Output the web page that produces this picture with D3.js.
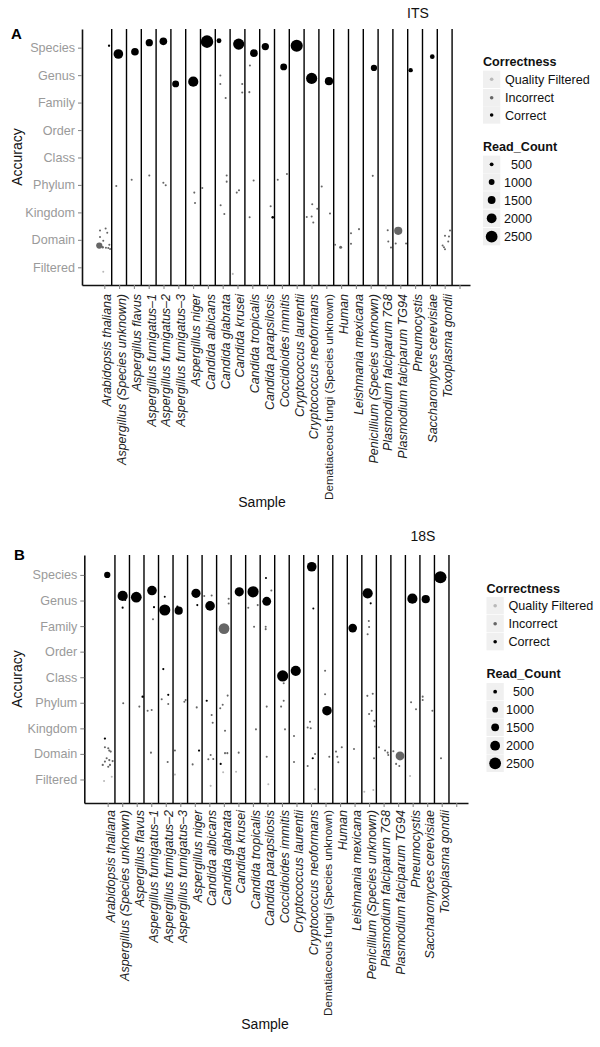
<!DOCTYPE html>
<html>
<head>
<meta charset="utf-8">
<script src="https://cdn.jsdelivr.net/npm/d3@7"></script>
<style>
  html, body { margin: 0; padding: 0; background: #fff; }
  svg { display: block; font-family: "Liberation Sans", Arial, Helvetica, sans-serif; }
</style>
</head>
<body>
<svg id="chart" width="600" height="1047"></svg>
<script>
// ---------------- data ----------------
const samples = [
  "Arabidopsis thaliana", "Aspergillus (Species unknown)", "Aspergillus flavus",
  "Aspergillus fumigatus\u20131", "Aspergillus fumigatus\u20132", "Aspergillus fumigatus\u20133",
  "Aspergillus niger", "Candida albicans", "Candida glabrata", "Candida krusei",
  "Candida tropicalis", "Candida parapsilosis", "Coccidioides immitis",
  "Cryptococcus laurentii", "Cryptococcus neoformans", "Dematiaceous fungi (Species unknown)",
  "Human", "Leishmania mexicana", "Penicillium (Species unknown)",
  "Plasmodium falciparum 7G8", "Plasmodium falciparum TG94", "Pneumocystis",
  "Saccharomyces cerevisiae", "Toxoplasma gondii"
];
const accuracyLevels = ["Filtered", "Domain", "Kingdom", "Phylum", "Class", "Order", "Family", "Genus", "Species"];
const correctnessLevels = ["Quality Filtered", "Incorrect", "Correct"];
const correctnessColors = ["#b8b8b8", "#666666", "#000000"];
const readCountBreaks = [500, 1000, 1500, 2000, 2500];
const panelLabels = ["A", "B"];
const panelTitles = ["ITS", "18S"];

// points: [sample position (1-based, jittered), accuracy position (1-based, jittered), read count, correctness index]
const itsPoints = [
  [1.32, 9.07, 120, 2], [1.95, 8.77, 1950, 2], [3.07, 8.85, 1460, 2], [4.04, 9.18, 1370, 2],
  [4.99, 9.23, 1460, 2], [5.82, 7.68, 1270, 2], [7.01, 7.76, 2100, 2], [7.94, 9.22, 2680, 2],
  [8.75, 9.25, 780, 2], [8.84, 7.99, 60, 1], [8.84, 7.68, 60, 1], [9.2, 7.17, 60, 1],
  [10.08, 9.13, 2340, 2], [10.84, 8.35, 60, 1], [10.32, 7.68, 60, 1], [10.32, 7.37, 60, 1],
  [10.8, 7.38, 60, 1], [11.11, 8.8, 1460, 2], [11.88, 9.04, 1370, 2], [13.12, 8.3, 1270, 2],
  [14.0, 9.07, 2590, 2], [15.01, 7.88, 2340, 2], [16.18, 7.78, 1610, 2], [19.22, 8.26, 1120, 2],
  [21.7, 8.18, 640, 2], [23.16, 8.67, 730, 2],
  [1.81, 3.96, 60, 1], [2.85, 4.19, 60, 1], [4.04, 4.34, 60, 1], [4.99, 4.08, 60, 1],
  [5.15, 3.99, 60, 1], [7.08, 3.72, 60, 1], [7.13, 3.34, 60, 1], [7.62, 3.89, 60, 1],
  [8.86, 3.26, 60, 1], [9.11, 2.94, 60, 1], [9.27, 4.34, 60, 1], [9.27, 4.12, 60, 1],
  [9.68, 0.76, 60, 0], [9.95, 3.72, 60, 1], [10.1, 3.81, 60, 1], [10.82, 2.82, 60, 1],
  [11.09, 4.16, 60, 1], [12.24, 3.22, 60, 1], [12.38, 2.82, 200, 2], [12.72, 4.19, 60, 1],
  [13.34, 4.4, 60, 1],
  [0.71, 2.34, 60, 1], [1.09, 2.41, 60, 1], [1.2, 2.26, 60, 1], [0.71, 2.1, 60, 1],
  [0.93, 1.97, 60, 1], [0.66, 1.79, 1100, 1], [0.89, 1.73, 150, 1], [1.11, 1.71, 60, 1],
  [1.34, 1.82, 60, 1], [1.39, 1.67, 60, 1], [1.27, 1.7, 60, 1], [0.93, 0.84, 60, 0],
  [15.69, 3.94, 60, 1], [15.05, 3.3, 60, 1], [14.68, 2.83, 60, 1], [15.01, 2.85, 60, 1],
  [15.12, 2.63, 60, 1], [15.39, 3.13, 60, 1], [16.25, 2.96, 60, 1], [16.59, 1.82, 60, 1],
  [16.97, 1.73, 300, 1], [17.67, 2.24, 60, 1], [17.67, 1.86, 60, 1], [18.21, 2.39, 60, 1],
  [19.14, 4.33, 60, 1], [20.15, 2.35, 60, 1], [20.19, 1.94, 60, 1], [20.37, 1.72, 60, 1],
  [20.69, 1.87, 60, 1], [21.39, 1.87, 60, 1], [20.86, 2.33, 1600, 1],
  [24.36, 2.34, 60, 1], [24.02, 2.15, 60, 1], [24.29, 2.12, 60, 1], [24.24, 1.94, 60, 1],
  [23.86, 1.79, 60, 1], [23.95, 1.73, 60, 1], [24.02, 1.66, 60, 1]
];

const s18Points = [
  [0.97, 9.0, 1120, 2], [2.03, 8.18, 2100, 2], [2.21, 8.02, 60, 2], [2.03, 7.72, 80, 2],
  [2.97, 8.13, 2240, 2], [4.05, 8.39, 1950, 2], [4.19, 7.74, 80, 2], [4.12, 7.27, 60, 1],
  [4.93, 7.63, 2340, 2], [4.93, 8.15, 60, 2], [5.89, 7.6, 1610, 2], [5.8, 7.76, 100, 2],
  [7.08, 8.28, 1850, 2], [7.17, 7.82, 80, 2], [7.65, 8.18, 60, 1], [8.16, 8.2, 60, 1],
  [8.05, 7.79, 1950, 2], [9.01, 6.9, 2240, 1], [9.33, 8.07, 60, 1], [9.33, 7.88, 60, 1],
  [10.06, 8.34, 1850, 2], [11.01, 8.34, 2340, 2], [10.68, 7.72, 60, 1], [11.33, 7.82, 60, 1],
  [11.08, 6.97, 60, 1], [11.9, 8.88, 80, 2], [12.27, 8.39, 60, 1], [11.95, 7.97, 1760, 2],
  [11.88, 6.97, 60, 1], [11.88, 6.88, 60, 1], [15.05, 9.32, 1950, 2], [15.16, 7.69, 60, 2],
  [17.87, 6.92, 1710, 2], [18.9, 8.28, 2100, 2], [19.11, 7.89, 80, 2], [18.98, 7.2, 60, 1],
  [19.0, 6.96, 60, 1], [18.9, 6.68, 60, 1], [21.98, 8.07, 2100, 2], [22.9, 8.05, 1610, 2],
  [23.91, 8.91, 2590, 2],
  [0.81, 2.6, 120, 2], [0.81, 2.26, 80, 1], [1.04, 2.22, 80, 1], [1.11, 2.13, 100, 1],
  [1.21, 2.09, 80, 1], [0.93, 1.83, 80, 1], [1.11, 1.76, 100, 1], [1.34, 1.72, 80, 1],
  [0.81, 1.7, 80, 1], [0.66, 1.57, 100, 1], [1.16, 1.57, 80, 1], [1.04, 1.5, 80, 1],
  [0.75, 0.94, 60, 0], [1.28, 1.11, 60, 0],
  [2.07, 3.98, 60, 1], [3.18, 3.85, 60, 1], [3.41, 4.24, 150, 2], [3.75, 3.69, 60, 1],
  [4.03, 3.72, 60, 1], [3.98, 2.05, 60, 1], [4.72, 4.14, 60, 1], [4.83, 5.32, 100, 2],
  [5.17, 4.31, 80, 2], [5.17, 3.95, 60, 1], [5.13, 1.68, 60, 1], [5.63, 2.13, 60, 1],
  [5.63, 1.19, 60, 0], [6.28, 4.04, 60, 1], [6.37, 4.11, 60, 1], [7.13, 3.82, 60, 1],
  [6.85, 1.59, 60, 1], [7.29, 2.13, 100, 2], [7.82, 4.08, 100, 2], [8.16, 3.52, 60, 1],
  [8.23, 3.22, 60, 1], [8.09, 1.96, 60, 1], [7.93, 1.79, 60, 1], [8.27, 1.8, 60, 1],
  [8.78, 1.61, 100, 2], [8.09, 0.75, 60, 0], [8.75, 3.79, 60, 1], [8.92, 3.92, 60, 1],
  [9.26, 4.28, 60, 1], [9.08, 2.91, 60, 1], [9.08, 2.03, 60, 1], [9.24, 2.03, 60, 1],
  [8.95, 1.28, 60, 0], [9.84, 1.3, 60, 0], [10.02, 2.05, 60, 1], [11.21, 2.96, 60, 1],
  [11.95, 3.85, 60, 1], [11.95, 1.89, 60, 1], [12.06, 0.81, 60, 0], [12.94, 3.85, 60, 1],
  [13.12, 4.08, 60, 1], [13.05, 5.05, 2340, 2], [13.12, 4.76, 60, 1], [13.21, 2.96, 60, 1],
  [13.83, 2.7, 60, 1], [13.83, 1.68, 60, 1], [13.95, 5.25, 2100, 2], [15.97, 5.25, 60, 1],
  [15.97, 4.33, 60, 1], [16.1, 3.69, 1950, 2], [14.93, 3.26, 60, 1], [14.77, 3.03, 60, 1],
  [14.98, 3.0, 60, 1], [15.28, 2.0, 60, 1], [15.12, 1.83, 100, 2], [14.77, 1.53, 60, 1],
  [16.26, 1.89, 60, 1], [16.72, 2.09, 60, 1], [16.81, 1.89, 60, 1], [16.88, 1.67, 60, 1],
  [17.12, 2.26, 60, 1], [17.96, 2.19, 60, 1], [15.28, 0.62, 60, 0], [18.88, 4.27, 60, 1],
  [19.25, 4.35, 60, 1], [19.18, 3.69, 60, 1], [19.0, 3.56, 60, 1], [19.35, 3.3, 60, 1],
  [19.4, 3.07, 60, 1], [19.34, 1.83, 60, 1], [19.29, 0.59, 60, 0], [18.67, 0.52, 60, 0],
  [19.68, 2.26, 60, 1], [20.1, 2.13, 60, 1], [20.28, 2.05, 60, 1], [20.32, 1.96, 60, 1],
  [20.67, 2.1, 60, 1], [21.13, 1.92, 1760, 1], [20.86, 1.61, 60, 1], [21.08, 1.53, 60, 1],
  [21.82, 1.14, 60, 0], [21.89, 4.02, 60, 1], [22.23, 3.75, 60, 1], [22.69, 4.24, 60, 1],
  [22.69, 4.11, 60, 1], [23.36, 3.69, 60, 1], [23.95, 1.83, 60, 1]
];

// ---------------- layout ----------------
const panels = [
  { points: itsPoints, xDomain: [-0.507, 25.71], xRange: [82, 470], yDomain: [0.355, 9.68], yRange: [285, 29],
    labelEnd: 9, label: [11, 39], title: [418, 18], ytitle: [22, 157], xtitle: [262, 507],
    legX: 483, corrY: [61.7, 79.3, 97.7, 115], readY: [146.7, 164.3, 182, 200, 218.3, 236.7], numEnd: 532 },
  { points: s18Points, xDomain: [-0.61, 25.81], xRange: [84.3, 468], yDomain: [0.08, 9.78], yRange: [803, 555],
    labelEnd: 7, label: [14, 560], title: [423, 541], ytitle: [22, 679], xtitle: [265, 1029],
    legX: 486.5, corrY: [588.3, 605.7, 623.7, 641.7], readY: [673.3, 691.7, 709.7, 727.3, 745.7, 763.3], numEnd: 534 }
];

const svg = d3.select("#chart");
const rScale = d3.scaleLinear().domain([0, 2500]).range([0.9, 5.9]);
const colorScale = d3.scaleOrdinal().domain([0, 1, 2]).range(correctnessColors);
const FS = 12.6;

panels.forEach((p, pi) => {
  const g = svg.append("g");
  const x = d3.scaleLinear().domain(p.xDomain).range(p.xRange);
  const y = d3.scaleLinear().domain(p.yDomain).range(p.yRange);
  const top = p.yRange[1], bottom = p.yRange[0];

  // separator lines between samples
  const seps = d3.range(1.5, samples.length + 1, 1);
  g.selectAll("line.sep").data(seps).join("line")
    .attr("x1", d => x(d)).attr("x2", d => x(d))
    .attr("y1", top).attr("y2", bottom)
    .attr("stroke", "#000").attr("stroke-width", 1.4);

  // y axis
  const yAxis = d3.axisLeft(y).tickValues(d3.range(1, accuracyLevels.length + 1))
    .tickFormat(d => accuracyLevels[d - 1]).tickSize(4).tickSizeOuter(0).tickPadding(3);
  const ya = g.append("g").attr("transform", `translate(${p.xRange[0]},0)`).call(yAxis);
  ya.select(".domain").attr("stroke", "#111").attr("stroke-width", 1.6);
  ya.selectAll(".tick line").attr("stroke", "#8a8a8a").attr("stroke-width", 1.1);
  ya.selectAll(".tick text").attr("fill", "#9a9a9a").style("font-size", FS + "px")
    .style("font-family", "'Liberation Sans', Arial, sans-serif");

  // x axis
  const xAxis = d3.axisBottom(x).tickValues(d3.range(1, samples.length + 2))
    .tickFormat(d => samples[d - 1] || "").tickSize(4).tickSizeOuter(0);
  const xa = g.append("g").attr("transform", `translate(0,${bottom})`).call(xAxis);
  xa.select(".domain").attr("stroke", "#111").attr("stroke-width", 1.6);
  xa.selectAll(".tick line").attr("stroke", "#8a8a8a").attr("stroke-width", 1.1);
  xa.selectAll(".tick text")
    .attr("transform", "rotate(-90)")
    .attr("text-anchor", "end")
    .attr("x", -p.labelEnd).attr("y", 2).attr("dy", "0.35em")
    .attr("fill", "#222")
    .style("font-family", "'Liberation Sans', Arial, sans-serif")
    .style("font-size", d => (samples[d - 1] || "").startsWith("Dematiaceous") ? "11.7px" : "12.5px")
    .style("font-style", d => (samples[d - 1] || "").startsWith("Dematiaceous") ? "normal" : "italic");

  // points
  const pts = p.points.slice().sort((a, b) => b[2] - a[2]);
  g.selectAll("circle.pt").data(pts).join("circle")
    .attr("cx", d => x(d[0])).attr("cy", d => y(d[1]))
    .attr("r", d => rScale(d[2]))
    .attr("fill", d => colorScale(d[3]));

  // titles
  g.append("text").attr("x", p.label[0]).attr("y", p.label[1])
    .attr("font-weight", "bold").attr("font-size", 15).attr("fill", "#000").text(panelLabels[pi]);
  g.append("text").attr("x", p.title[0]).attr("y", p.title[1]).attr("text-anchor", "middle")
    .attr("font-size", 14).attr("fill", "#111").text(panelTitles[pi]);
  g.append("text").attr("transform", `translate(${p.ytitle[0]},${p.ytitle[1]}) rotate(-90)`)
    .attr("text-anchor", "middle").attr("font-size", 14).attr("fill", "#111").text("Accuracy");
  g.append("text").attr("x", p.xtitle[0]).attr("y", p.xtitle[1]).attr("text-anchor", "middle")
    .attr("font-size", 14).attr("fill", "#111").text("Sample");

  // legend: Correctness
  const K = 17.3;
  const lg = g.append("g");
  lg.append("text").attr("x", p.legX).attr("y", p.corrY[0] + 4.5).attr("font-weight", "bold")
    .attr("font-size", FS).attr("fill", "#111").text("Correctness");
  correctnessLevels.forEach((c, i) => {
    const cy = p.corrY[i + 1];
    lg.append("rect").attr("x", p.legX).attr("y", cy - K / 2).attr("width", K).attr("height", K).attr("fill", "#f0f0f0");
    lg.append("circle").attr("cx", p.legX + K / 2).attr("cy", cy).attr("r", 1.8).attr("fill", colorScale(i));
    lg.append("text").attr("x", p.legX + 22).attr("y", cy + 4.5).attr("font-size", FS).attr("fill", "#111").text(c);
  });
  // legend: Read_Count
  lg.append("text").attr("x", p.legX).attr("y", p.readY[0] + 4.5).attr("font-weight", "bold")
    .attr("font-size", FS).attr("fill", "#111").text("Read_Count");
  readCountBreaks.forEach((v, i) => {
    const cy = p.readY[i + 1];
    lg.append("rect").attr("x", p.legX).attr("y", cy - K / 2).attr("width", K).attr("height", K).attr("fill", "#f0f0f0");
    lg.append("circle").attr("cx", p.legX + K / 2).attr("cy", cy).attr("r", rScale(v)).attr("fill", "#000");
    lg.append("text").attr("x", p.numEnd).attr("y", cy + 4.5).attr("text-anchor", "end")
      .attr("font-size", FS).attr("fill", "#111").text(v);
  });
});
</script>
</body>
</html>
